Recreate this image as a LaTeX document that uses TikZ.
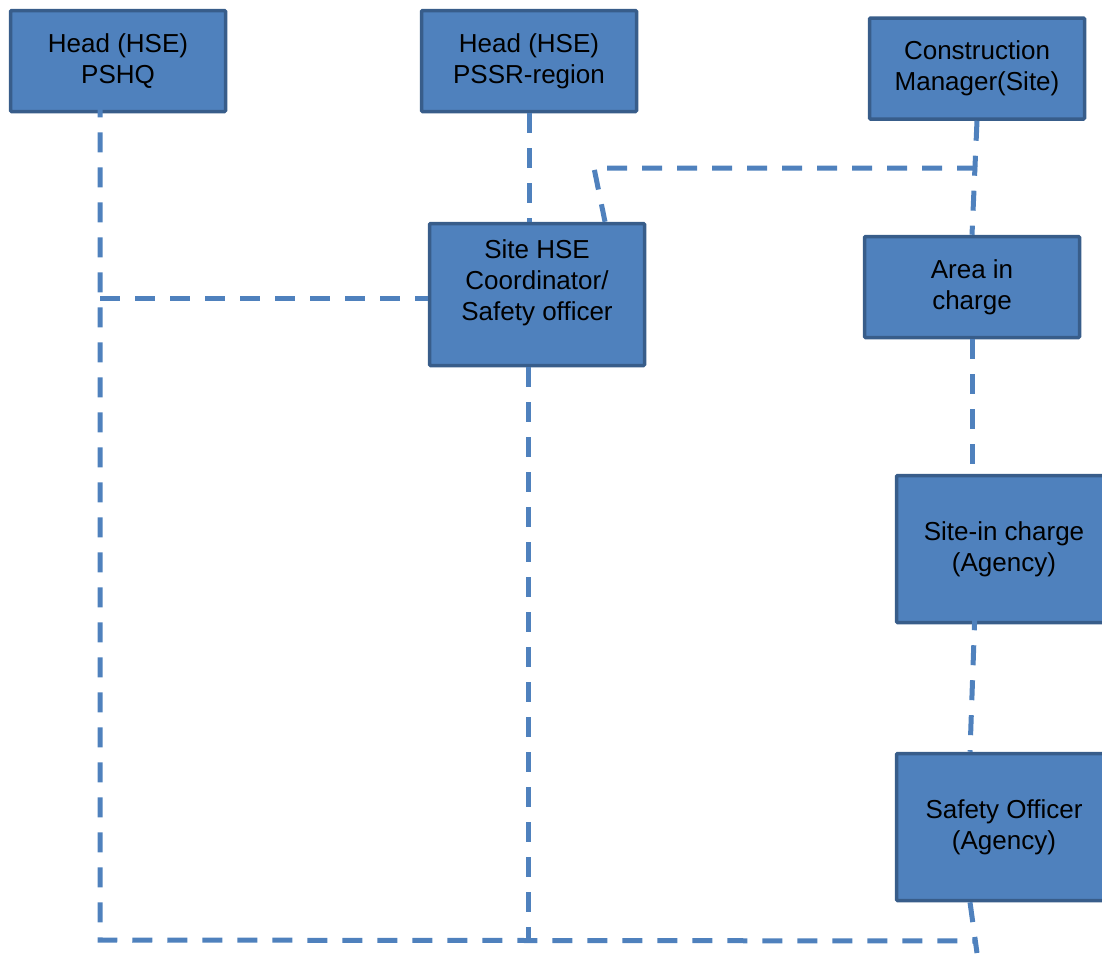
\documentclass[tikz,border=0pt]{standalone}
\usepackage{fontspec}
\setmainfont{Liberation Sans}
\usetikzlibrary{positioning}
\definecolor{boxblue}{HTML}{4F81BD}
\definecolor{boxedge}{HTML}{385D8A}
\tikzset{>=latex}
\tikzset{box/.style={draw=boxedge, line width=3.5pt, fill=boxblue, rounded corners=1pt, align=center, minimum width=215pt, inner sep=0pt, font=\fontsize{26}{31}\selectfont},
  link/.style={draw=boxblue, line width=5pt, dash pattern=on 20pt off 15pt}}

\begin{document}
\begin{tikzpicture}[x=1pt, y=-1pt]
      \useasboundingbox (0,0) rectangle (1102,956);
      \node[box, minimum height=101pt] (n0) at (118,61) {Head (HSE)\\PSHQ};
      \node[box, minimum height=101pt] (n1) at (529,61) {Head (HSE)\\PSSR-region};
      \node[box, minimum height=101pt] (n2) at (977,68.5) {Construction\\Manager(Site)};
      \node[box, minimum height=142pt] (n3) at (537,294.5) {\raisebox{0pt}[\height][\dimexpr\depth+22pt\relax]{\begin{tabular}{@{}c@{}}Site HSE\\Coordinator/\\Safety officer\end{tabular}}};
      \node[box, minimum height=101pt] (n4) at (972,287) {Area in\\charge};
      \node[box, minimum height=147pt] (n5) at (1004,549) {Site-in charge\\(Agency)};
      \node[box, minimum height=147pt] (n6) at (1004,827) {Safety Officer\\(Agency)};
      \coordinate (c0) at ([xshift=-18pt, yshift=16pt]n0.south);
      \coordinate (c1) at (c0 |- 0,940);
      \coordinate (c2) at (977,941);
      \coordinate (c3) at (100,298);
      \coordinate (c4) at ([xshift=-9pt]n3.south);
      \coordinate (c5) at (977,168);
      \coordinate (c6) at (594,168);
      \coordinate (c7) at ([xshift=68pt]n3.north);
      \coordinate (c8) at ([xshift=-29pt, yshift=14pt]n5.south);
      \coordinate (c9) at ([xshift=-34pt]n6.north);
      \coordinate (c10) at ([xshift=-34pt]n6.south);
      \coordinate (c11) at (977,953);
      \draw[link] (c0) -- (c1) -- (c2);
      \draw[link] (c3) -- (c3 -| n3.west);
      \draw[link] (n1.south) -- (n1.south |- n3.north);
      \draw[link] (c4) -- (c4 |- c1);
      \draw[link] (n2.south) -- (n4.north);
      \draw[link] (c5) -- (c6) -- (c7);
      \draw[link] (n4.south) -- (n4.south |- n5.north);
      \draw[link] (c8) -- (c9);
      \draw[link] (c10) -- (c11);
    \end{tikzpicture}
\end{document}
